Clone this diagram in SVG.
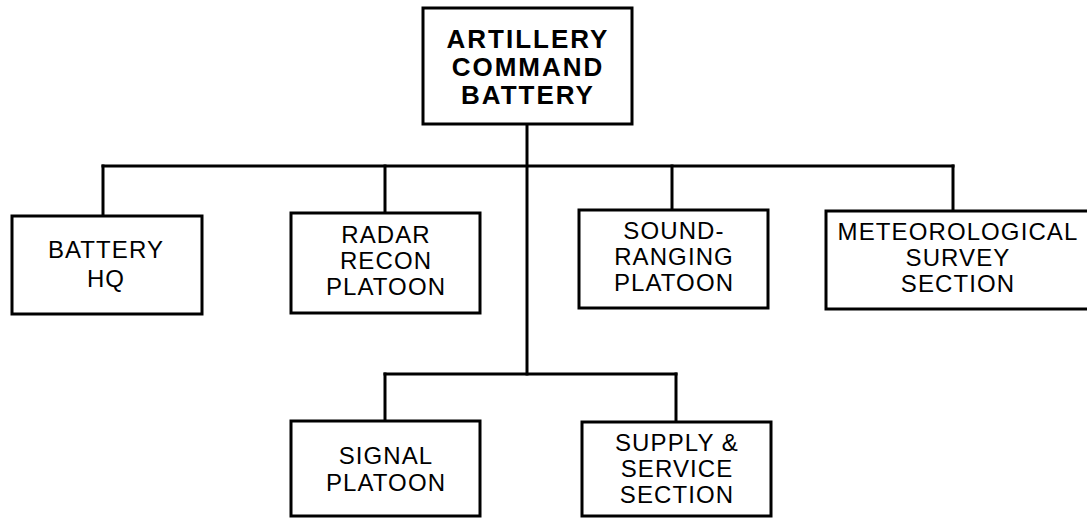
<svg xmlns="http://www.w3.org/2000/svg" width="1087" height="518" viewBox="0 0 1087 518">
<style>
.box{fill:#fff;stroke:#000;stroke-width:3}
.conn{fill:none;stroke:#000;stroke-width:3;stroke-linecap:square}
.t{font-family:"Liberation Sans",Arial,sans-serif;font-size:24px;letter-spacing:1.1px;text-anchor:middle;fill:#000}
.tb{font-family:"Liberation Sans",Arial,sans-serif;font-size:26px;font-weight:bold;letter-spacing:2px;text-anchor:middle;fill:#000}
</style>
<rect width="1087" height="518" fill="#fff"/>
<g id="connectors">
<path class="conn" d="M527,124 V374"/>
<path class="conn" d="M103,166 H953"/>
<path class="conn" d="M103,166 V216"/>
<path class="conn" d="M385,166 V213"/>
<path class="conn" d="M672,166 V210"/>
<path class="conn" d="M953,166 V211"/>
<path class="conn" d="M385,374 H676"/>
<path class="conn" d="M385,374 V421"/>
<path class="conn" d="M676,374 V422"/>
</g>
<g id="artillery-command-battery">
<rect class="box" x="423" y="8" width="209" height="116"/>
<text class="tb" x="528" y="48">ARTILLERY</text>
<text class="tb" x="528" y="76">COMMAND</text>
<text class="tb" x="528" y="104">BATTERY</text>
</g>
<g id="battery-hq">
<rect class="box" x="12" y="216" width="190" height="98"/>
<text class="t" x="106" y="258">BATTERY</text>
<text class="t" x="106" y="287">HQ</text>
</g>
<g id="radar-recon-platoon">
<rect class="box" x="291" y="213" width="189" height="100"/>
<text class="t" x="386" y="243">RADAR</text>
<text class="t" x="386" y="269">RECON</text>
<text class="t" x="386" y="295">PLATOON</text>
</g>
<g id="sound-ranging-platoon">
<rect class="box" x="579" y="210" width="189" height="98"/>
<text class="t" x="674" y="239">SOUND-</text>
<text class="t" x="674" y="265">RANGING</text>
<text class="t" x="674" y="291">PLATOON</text>
</g>
<g id="meteorological-survey-section">
<rect class="box" x="826" y="211" width="270" height="98"/>
<text class="t" x="958" y="240">METEOROLOGICAL</text>
<text class="t" x="958" y="266">SURVEY</text>
<text class="t" x="958" y="292">SECTION</text>
</g>
<g id="signal-platoon">
<rect class="box" x="291" y="421" width="189" height="95"/>
<text class="t" x="386" y="464">SIGNAL</text>
<text class="t" x="386" y="491">PLATOON</text>
</g>
<g id="supply-service-section">
<rect class="box" x="582" y="422" width="189" height="94"/>
<text class="t" x="677" y="451">SUPPLY &amp;</text>
<text class="t" x="677" y="477">SERVICE</text>
<text class="t" x="677" y="503">SECTION</text>
</g>
</svg>
